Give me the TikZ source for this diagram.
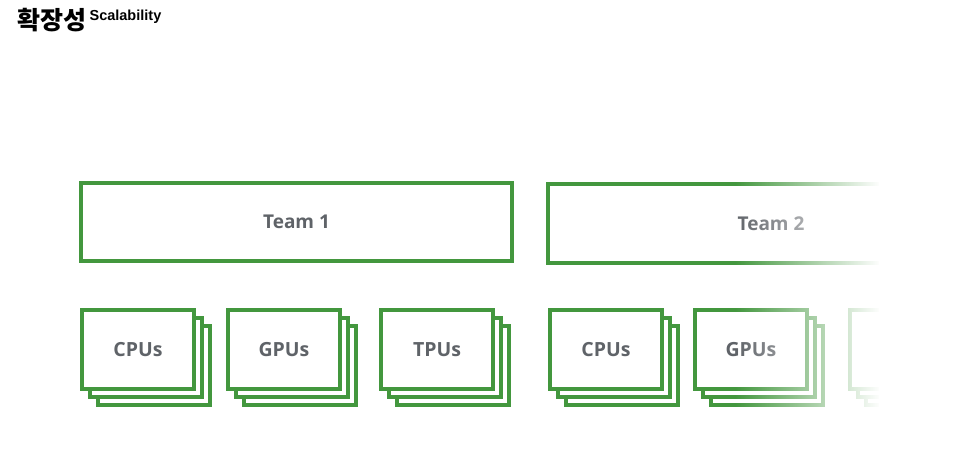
\documentclass[tikz,border=0pt]{standalone}
\usepackage{fontspec}
\setmainfont{Liberation Sans}
\newfontfamily\cjk{Noto Sans CJK KR}
\newfontfamily\gsans{Open Sans}
\usetikzlibrary{fadings}
\definecolor{gbox}{RGB}{67,151,62}
\definecolor{gtext}{RGB}{95,99,104}
\tikzset{
  unitbox/.style={draw=gbox, line width=4pt, fill=white, minimum width=112pt, minimum height=79pt, inner sep=0pt, font=\gsans\fontsize{19.5}{22}\selectfont\bfseries, text=gtext},
  teambox/.style={draw=gbox, line width=4pt, fill=white, inner sep=0pt, font=\gsans\fontsize{19}{22}\selectfont\bfseries, text=gtext},
}
\begin{document}
\begin{tikzpicture}[x=1pt,y=-1pt]
\useasboundingbox (0,0) rectangle (960,458);
\fill[white] (0,0) rectangle (960,458);
% title
\node[anchor=base west, inner sep=0pt, font=\cjk\bfseries\fontsize{25}{28}\selectfont] (t1) at (17,29) {확장성};
\node[anchor=base west, inner sep=0pt, font=\bfseries\fontsize{14.5}{16}\selectfont] (t2) at (t1.base east) [xshift=3pt, yshift=9pt] {Scalability};
% teams
\node[teambox, minimum width=431pt, minimum height=78pt] (team1) at (296.5,222) {Team 1};
\node[teambox, minimum width=360pt, minimum height=79pt] (team2) at (728,223.5) {\hspace*{86pt}Team 2};
% stacks
\foreach \n/\x/\lab in {a/138/CPUs, b/284/GPUs, c/437/TPUs, d/606/CPUs, e/751/GPUs, f/906/{}} {
  \node[unitbox] (\n3) at (\x+16,365.5) {};
  \node[unitbox] (\n2) at (\x+8,357.5) {};
  \node[unitbox] (\n1) at (\x,349.5) {\lab};
}
% fade to the right
\fill[white, path fading=west] (735,165) rectangle (880,425);
\fill[white] (879,165) rectangle (960,425);
\end{tikzpicture}
\end{document}
